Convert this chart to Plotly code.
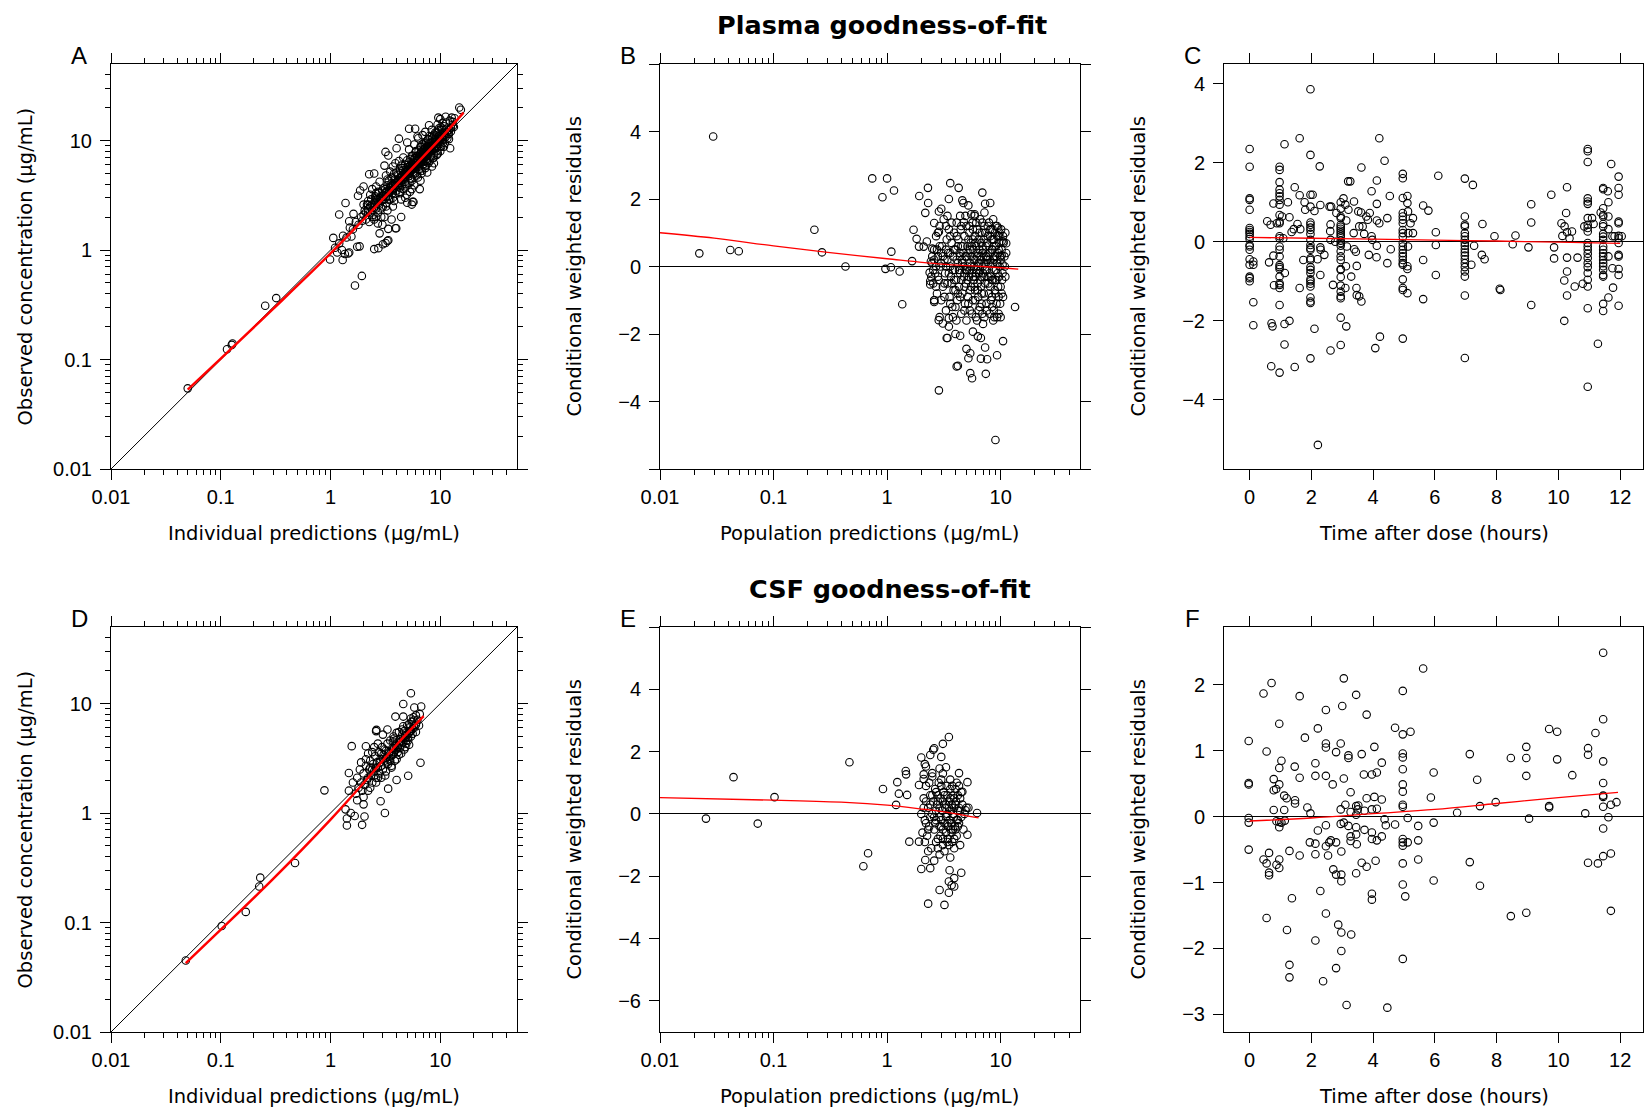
import math
import plotly.graph_objects as go

# ---------------------------------------------------------------------------
# Plasma data
# ---------------------------------------------------------------------------
# (individual prediction, observed concentration) in ug/mL
plasma_ipred_dv = [
    (0.05, 0.0545), (0.114, 0.124), (0.126, 0.136), (0.128, 0.14), (0.254, 0.31), (0.32, 0.364),
    (1.67, 0.474), (1.93, 0.58), (0.99, 0.82), (1.06, 1.29), (1.2, 2.11), (1.37, 2.69), (1.48, 1.83),
    (1.62, 2.14), (1.75, 1.07), (1.84, 1.08), (1.27, 1.0), (1.29, 0.81), (1.48, 0.95), (1.55, 1.33),
    (1.15, 0.95), (1.35, 0.92), (1.45, 0.93), (1.78, 3.13), (1.86, 3.5), (2.0, 3.8), (2.25, 4.92),
    (2.5, 5.0), (2.5, 1.02), (2.73, 1.04), (3.0, 1.13), (3.3, 1.21), (3.17, 7.87), (3.36, 7.3),
    (3.1, 5.9), (4.0, 8.5), (4.2, 10.4), (4.4, 2.0), (3.9, 1.58), (3.7, 5.8), (5.0, 9.6), (5.2, 12.8),
    (5.9, 12.8), (6.2, 10.9), (5.6, 2.75), (5.0, 2.7), (6.5, 3.6), (8.4, 5.8), (12.3, 8.5),
    (12.7, 16.2), (14.9, 20.0), (15.4, 19.1), (13.3, 13.3), (9.6, 16.2), (10.0, 15.7), (7.9, 13.8),
    (2.8, 1.42), (2.97, 1.7), (3.17, 1.16), (3.36, 1.23), (3.36, 1.56), (3.97, 1.58), (5.5, 2.6),
    (5.7, 2.75), (1.1, 1.05), (1.2, 1.15), (1.3, 1.35), (1.4, 1.3), (1.5, 1.6), (1.6, 1.55),
    (1.7, 1.8), (1.8, 1.7), (1.9, 2.0), (1.95, 1.85), (2.0, 2.1), (2.05, 2.3), (2.1, 1.9),
    (2.15, 2.6), (2.2, 2.2), (2.25, 1.8), (2.3, 2.5), (2.35, 2.9), (2.4, 2.3), (2.45, 2.1),
    (2.5, 2.7), (2.55, 3.1), (2.6, 2.4), (2.65, 2.9), (2.7, 2.2), (2.75, 3.3), (2.8, 2.6),
    (2.85, 3.0), (2.9, 2.8), (2.95, 3.5), (3.0, 2.5), (2.3, 3.2), (2.4, 3.6), (2.6, 3.8),
    (2.5, 1.9), (2.7, 1.75), (2.9, 2.0), (2.2, 2.8), (2.0, 2.6), (2.8, 4.2), (2.6, 3.3),
    (3.05, 3.2), (3.1, 2.9), (3.15, 3.6), (3.2, 3.4), (3.25, 2.7), (3.3, 3.9), (3.35, 3.1),
    (3.4, 4.3), (3.45, 3.5), (3.5, 2.9), (3.55, 3.8), (3.6, 4.6), (3.65, 3.3), (3.7, 4.0),
    (3.75, 3.6), (3.8, 2.8), (3.85, 4.4), (3.9, 3.9), (3.95, 5.1), (4.0, 3.5), (3.2, 4.8),
    (3.3, 2.3), (3.5, 5.2), (3.7, 2.5), (3.9, 6.2), (3.1, 2.0), (3.6, 1.9),
    (4.05, 4.2), (4.1, 3.8), (4.15, 4.8), (4.2, 4.5), (4.25, 3.4), (4.3, 5.3), (4.35, 4.1),
    (4.4, 4.7), (4.45, 3.9), (4.5, 5.6), (4.55, 4.4), (4.6, 3.6), (4.65, 5.0), (4.7, 4.6),
    (4.75, 6.0), (4.8, 4.2), (4.85, 5.4), (4.9, 4.9), (4.95, 3.2), (5.0, 5.2), (4.2, 6.5),
    (4.4, 2.9), (4.6, 7.0), (4.8, 3.0),
    (5.05, 5.7), (5.1, 4.7), (5.15, 6.3), (5.2, 5.0), (5.25, 4.1), (5.3, 5.9), (5.35, 6.8),
    (5.4, 5.3), (5.45, 4.5), (5.5, 6.1), (5.55, 5.6), (5.6, 7.3), (5.65, 4.9), (5.7, 6.4),
    (5.75, 5.8), (5.8, 3.9), (5.85, 6.9), (5.9, 5.5), (5.95, 7.8), (6.0, 6.2), (5.2, 8.3),
    (5.5, 3.6), (5.8, 9.2), (5.3, 3.4),
    (6.05, 5.1), (6.1, 6.7), (6.15, 7.2), (6.2, 5.8), (6.25, 4.6), (6.3, 6.5), (6.35, 8.1),
    (6.4, 7.0), (6.45, 5.4), (6.5, 6.9), (6.55, 7.6), (6.6, 6.1), (6.65, 8.7), (6.7, 7.3),
    (6.75, 5.0), (6.8, 7.8), (6.85, 6.6), (6.9, 9.3), (6.95, 7.1), (7.0, 6.0), (6.3, 10.5),
    (6.6, 4.3), (6.9, 11.2),
    (7.05, 7.6), (7.1, 8.3), (7.15, 6.4), (7.2, 9.0), (7.25, 7.9), (7.3, 5.6), (7.35, 8.6),
    (7.4, 7.2), (7.45, 9.8), (7.5, 8.0), (7.55, 6.8), (7.6, 8.9), (7.65, 7.5), (7.7, 10.2),
    (7.75, 8.2), (7.8, 6.2), (7.85, 9.4), (7.9, 7.9), (7.95, 11.0), (8.0, 8.5), (7.3, 12.0),
    (7.6, 5.1),
    (8.1, 8.8), (8.2, 7.3), (8.3, 9.6), (8.4, 8.1), (8.5, 10.4), (8.6, 6.9), (8.7, 9.1),
    (8.8, 11.3), (8.9, 8.4), (9.0, 9.9), (8.35, 12.5), (8.75, 6.2),
    (9.1, 10.6), (9.2, 8.7), (9.3, 11.8), (9.4, 9.4), (9.5, 7.6), (9.6, 10.9), (9.7, 12.9),
    (9.8, 9.8), (9.9, 11.5), (10.0, 8.9), (9.45, 14.0),
    (10.2, 10.8), (10.4, 12.6), (10.6, 9.6), (10.8, 13.5), (11.0, 11.2), (11.3, 14.6),
    (11.6, 10.5), (11.9, 12.4), (12.2, 15.2), (12.5, 13.0), (13.0, 14.8), (13.5, 16.0),
    (10.5, 14.5), (11.2, 16.5), (12.0, 11.5),
    (2.1, 2.2), (2.2, 2.35), (2.3, 2.2), (2.4, 2.6), (2.5, 2.45), (2.6, 2.75), (2.7, 2.65),
    (2.8, 2.95), (2.9, 3.1), (3.0, 2.9), (3.1, 3.3), (3.2, 3.05), (3.3, 3.5), (3.4, 3.3),
    (3.5, 3.7), (3.6, 3.5), (3.7, 3.85), (3.8, 3.7), (3.9, 4.1), (4.0, 3.9), (4.1, 4.35),
    (4.2, 4.1), (4.3, 4.5), (4.4, 4.3), (4.5, 4.75), (4.6, 4.5), (4.7, 4.95), (4.8, 4.7),
    (4.9, 5.2), (5.0, 4.85), (5.1, 5.4), (5.2, 5.1), (5.3, 5.6), (5.4, 5.25), (5.5, 5.8),
    (5.6, 5.45), (5.7, 6.0), (5.8, 5.65), (5.9, 6.2), (6.0, 5.8), (6.1, 6.45), (6.2, 6.0),
    (6.3, 6.7), (6.4, 6.2), (6.5, 6.85), (6.6, 6.4), (6.7, 7.05), (6.8, 6.6), (6.9, 7.3),
    (7.0, 6.8), (7.1, 7.5), (7.2, 7.0), (7.3, 7.7), (7.4, 7.2), (7.5, 7.9), (7.6, 7.4),
    (7.7, 8.1), (7.8, 7.6), (7.9, 8.3), (8.0, 7.8), (8.2, 8.6), (8.4, 8.2), (8.6, 9.0),
    (8.8, 8.6), (9.0, 9.4), (9.2, 9.0), (9.4, 9.8), (9.6, 9.3), (9.8, 10.2), (10.0, 9.7),
    (10.3, 10.5), (10.6, 10.2), (10.9, 11.3), (11.2, 10.8), (11.5, 11.9), (11.8, 11.4),
    (12.1, 12.6), (12.5, 12.1), (13.0, 13.5),
    (2.4, 2.0), (2.6, 3.0), (2.9, 2.4), (3.1, 3.7), (3.4, 2.9), (3.6, 4.1), (3.9, 3.3),
    (4.1, 4.9), (4.3, 3.7), (4.6, 5.4), (4.8, 4.0), (5.1, 6.0), (5.3, 4.5), (5.6, 6.6),
    (5.9, 5.0), (6.1, 7.2), (6.4, 5.5), (6.7, 7.9), (7.0, 6.1), (7.3, 8.6), (7.6, 6.6),
    (7.9, 9.2), (8.2, 7.1), (8.5, 9.7), (8.8, 7.6), (9.1, 10.3), (9.4, 8.1), (9.8, 11.0),
    (10.2, 8.8), (10.6, 11.8), (11.0, 9.5), (11.5, 12.8), (12.0, 10.3), (2.2, 2.6), (2.7, 3.4),
    (3.3, 4.4), (3.8, 5.0), (4.4, 5.9), (5.0, 6.6), (5.5, 7.2), (6.0, 8.0), (6.6, 8.8),
    (7.2, 9.5), (7.8, 10.3), (8.4, 11.0), (9.0, 11.8), (9.6, 12.4), (10.2, 13.2), (2.6, 2.0),
    (3.2, 2.5), (3.7, 3.0), (4.3, 3.3), (4.9, 3.8), (5.5, 4.3), (6.1, 4.8), (6.8, 5.3),
    (7.4, 5.9), (8.0, 6.5), (8.7, 7.0), (9.3, 7.4), (10.0, 8.0), (10.8, 8.8),
]

# (population prediction, CWRES)
plasma_pred_cwres = [
    (0.0222, 0.39), (0.0294, 3.85), (0.0416, 0.49), (0.0494, 0.45), (0.229, 1.09), (0.267, 0.42),
    (0.43, 0.0), (0.74, 2.61), (0.91, 2.05), (0.967, -0.07), (1.0, 2.61), (1.08, -0.02),
    (1.09, 0.44), (1.15, 2.25), (1.29, -0.15), (1.36, -1.12), (1.66, 0.16), (1.71, 1.09),
    (1.82, 0.82), (1.92, 2.09), (1.91, 0.59), (2.1, 0.59), (2.17, 1.59), (2.24, 0.74),
    (2.29, 2.33), (2.3, 1.88), (2.37, -0.18), (2.43, 0.15),
    (2.6, -1.05), (2.86, -3.67), (2.85, -1.59), (2.86, 1.63), (3.0, 1.71), (3.1, -1.69),
    (3.6, 2.47), (3.5, 2.0), (3.4, -2.12), (3.35, -2.12), (3.5, -1.78), (3.5, -1.53),
    (4.08, -1.6), (4.0, -2.0), (4.27, 2.33), (4.2, -2.94), (4.1, -2.96), (4.4, -2.05),
    (4.6, 1.96), (4.7, 1.88), (4.75, 1.31), (5.0, -2.44), (5.2, 1.81), (5.2, -2.72),
    (5.4, -2.57), (5.4, -3.16), (5.6, -3.31), (5.5, 1.55), (5.9, 1.55), (5.7, -1.93),
    (6.3, -2.07), (6.7, -2.73), (6.7, -2.12), (6.9, 2.19), (7.3, 1.86), (7.3, -2.4),
    (7.4, -3.18), (8.1, 1.88), (7.6, -2.75), (9.3, -2.63), (9.0, -5.14), (10.5, -2.21),
    (13.4, -1.2), (11.2, 0.69), (10.6, 0.74), (10.2, -0.8), (10.2, 0.33), (10.4, 0.06),
    (2.6, 1.29), (2.86, 1.03), (2.5, 0.53), (2.4, -0.43), (2.4, -0.53), (2.6, -1.0),
    (2.45, -0.3), (2.5, 0.1), (2.55, -0.5), (2.6, 0.5), (2.65, -0.2), (2.7, 0.9), (2.75, -0.8),
    (2.8, 0.3), (2.85, -0.4), (2.9, 1.2), (2.95, 0.0), (3.0, -1.0), (3.05, 0.6), (3.1, -0.6),
    (3.15, 1.4), (3.2, 0.2), (3.25, -0.2), (3.3, -1.3), (3.35, 0.8), (3.4, -0.5), (3.45, 0.4),
    (3.5, 1.1), (3.55, -0.9), (3.6, 0.0), (3.65, -0.3), (3.7, 0.7), (3.75, -1.2), (3.8, 0.3),
    (3.85, -0.7), (3.9, 1.0), (3.95, -0.1), (4.0, 0.5), (4.05, -0.4), (4.1, 1.3), (4.15, -1.0),
    (4.2, 0.1), (4.25, 0.8), (4.3, -0.6), (4.35, 0.4), (4.4, -0.2), (4.45, 1.1), (4.5, -1.4),
    (4.55, 0.2), (4.6, -0.8), (4.65, 0.6), (4.7, 0.0), (4.75, -0.3), (4.8, 0.9), (4.85, -1.1),
    (4.9, 0.3), (4.95, -0.5), (5.0, 1.2), (5.05, -0.1), (5.1, 0.6), (5.15, -0.9), (5.2, 0.4),
    (5.25, -0.3), (5.3, 1.0), (5.35, -1.3), (5.4, 0.1), (5.45, 0.7), (5.5, -0.6), (5.55, 0.3),
    (5.6, -0.2), (5.65, 1.3), (5.7, -1.0), (5.75, 0.5), (5.8, -0.4), (5.85, 0.0), (5.9, 0.9),
    (5.95, -0.7), (6.0, 0.2), (6.05, -1.5), (6.1, 0.6), (6.15, -0.1), (6.2, 1.1), (6.25, -0.5),
    (6.3, 0.4), (6.35, -0.9), (6.4, 0.8), (6.45, -0.2), (6.5, 0.1), (6.55, -1.2), (6.6, 1.4),
    (6.65, 0.3), (6.7, -0.6), (6.75, 0.7), (6.8, -0.3), (6.85, 1.0), (6.9, -1.4), (6.95, 0.0),
    (7.0, 0.5), (7.1, -0.8), (7.2, 1.2), (7.3, -0.1), (7.4, 0.6), (7.5, -1.1), (7.6, 0.2),
    (7.7, 0.9), (7.8, -0.5), (7.9, 1.3), (8.0, -0.2), (8.1, 0.4), (8.2, -1.0), (8.3, 0.8),
    (8.4, -0.4), (8.5, 1.1), (8.6, 0.1), (8.7, -1.3), (8.8, 0.6), (8.9, -0.7), (9.0, 1.2),
    (9.1, -0.1), (9.2, 0.3), (9.3, -1.5), (9.4, 0.9), (9.5, -0.6), (9.6, 0.5), (9.7, -0.3),
    (9.8, 1.0), (9.9, -1.1), (10.0, 0.2), (10.3, -0.4), (10.6, 0.7), (10.9, 0.0), (11.2, 0.4),
    (3.3, 0.5), (3.6, 0.9), (3.9, -0.4), (4.2, -0.8), (4.5, 0.6), (4.8, -0.2), (5.1, 0.0),
    (5.4, -0.7), (5.7, 0.8), (6.0, -0.3), (6.3, 0.0), (6.6, -0.4), (6.9, 0.6), (7.2, -0.3),
    (7.5, 0.3), (7.8, 0.1), (8.1, -0.6), (8.4, 0.5), (8.7, 0.2), (9.0, -0.4), (3.0, 0.4),
    (2.7, -0.6), (2.9, -1.5), (3.4, 1.5), (4.4, 1.5), (5.9, 1.5), (7.2, 1.6), (8.6, 1.4),
    (9.5, 1.15), (10.2, 0.75), (10.5, -0.9), (10.0, -1.5), (2.6, -1.0), (2.8, 1.0),
    (2.5, 0.3), (2.55, -0.1), (2.6, 0.2), (2.7, 0.0), (2.75, 0.5), (2.8, -0.3), (2.9, 0.6),
    (3.0, 0.1), (3.1, 0.3), (3.2, -0.5), (3.3, 0.0), (3.4, 0.2), (3.5, -0.2), (3.6, 0.4),
    (3.7, -0.5), (3.8, -0.1), (3.9, 0.5), (4.0, -0.7), (4.1, 0.2), (4.2, 0.6), (4.3, -0.1),
    (4.4, 0.3), (4.5, -0.4), (4.6, 0.1), (4.7, 0.4), (4.8, -0.6), (4.9, -0.1), (5.0, 0.3),
    (5.1, -0.4), (5.2, 0.8), (5.3, -0.1), (5.4, 0.5), (5.5, 0.0), (5.6, 0.6), (5.7, -0.3),
    (5.8, 0.2), (5.9, -0.6), (6.0, 0.7), (6.1, -0.2), (6.2, 0.3), (6.3, -0.7), (6.4, 0.1),
    (6.5, 0.5), (6.6, -0.1), (6.7, 0.2), (6.8, -0.8), (6.9, 0.4), (7.0, -0.2), (7.1, 0.8),
    (7.2, 0.1), (7.3, -0.5), (7.4, 0.3), (7.5, -0.1), (7.6, 0.7), (7.7, -0.3), (7.8, 0.4),
    (7.9, -0.8), (8.0, 0.2), (8.1, 0.9), (8.2, -0.3), (8.3, 0.1), (8.4, -0.9), (8.5, 0.5),
    (8.6, -0.4), (8.7, 0.8), (8.8, -0.1), (8.9, 0.3), (9.0, -0.8), (9.1, 0.6), (9.2, -0.4),
    (9.3, 0.1), (9.4, -0.2), (9.5, 0.4), (9.6, -0.9), (9.7, 0.7), (9.8, 0.0), (9.9, 0.3),
    (10.0, -0.6), (10.2, 0.5), (10.4, -0.2), (10.8, 0.3), (11.0, -0.3),
    (3.2, -0.9), (3.6, -1.1), (4.0, -1.2), (4.4, -0.9), (4.8, -1.3), (5.2, -1.1), (5.6, -1.4),
    (6.0, -1.0), (6.4, -1.3), (6.8, -1.1), (7.2, -1.5), (7.6, -1.3), (8.0, -1.4), (8.4, -1.2),
    (8.8, -1.5), (9.2, -1.1), (9.6, -1.4), (3.8, -1.5), (5.0, -1.6), (6.2, -1.6), (7.0, -1.7),
    (8.6, -1.6),
    (3.3, 1.2), (3.7, 1.3), (4.1, 0.9), (4.5, 1.2), (4.9, 1.5), (5.3, 1.2), (5.7, 1.1),
    (6.1, 1.3), (6.5, 1.0), (6.9, 1.3), (7.3, 1.0), (7.7, 1.2), (8.1, 1.1), (8.5, 0.8),
    (8.9, 1.0), (9.3, 1.2), (9.7, 0.9), (10.1, 1.1), (10.5, 0.9), (11.0, 1.0),
]

# CWRES grouped at nominal sampling times (hours)
plasma_time_columns = [
    (0.0, [2.35, 1.9, 1.1, 1.06, 0.81, 0.35, 0.3, 0.25, 0.2, 0.13, 0.07, -0.08, -0.12, -0.2,
           -0.44, -0.58, -0.88, -0.92, -1.0]),
    (0.12, [-0.5, -0.58, -1.53, -2.11]),
    (0.97, [1.9, 1.82, 1.51, 1.32, 1.23, 1.15, 1.06, 0.94, 0.68, 0.51, 0.47, 0.14, 0.09, -0.12,
            -0.2, -0.37, -0.59, -0.64, -0.69, -0.88, -1.05, -1.09, -1.17, -1.6, -3.31]),
    (1.97, [3.86, 2.2, 1.19, 0.89, 0.49, 0.43, 0.36, 0.3, 0.2, 0.05, -0.08, -0.16, -0.2, -0.42,
            -0.46, -0.64, -0.71, -0.79, -0.95, -1.0, -1.06, -1.13, -1.41, -1.51, -1.55, -2.95]),
    (2.95, [1.0, 0.84, 0.64, 0.6, 0.43, 0.38, 0.33, 0.28, 0.23, 0.18, 0.13, 0.03, -0.03, -0.1,
            -0.24, -0.37, -0.46, -0.69, -0.71, -0.89, -1.11, -1.26, -1.38, -1.43, -1.92, -2.61]),
    (4.96, [1.72, 1.61, 1.11, 0.73, 0.64, 0.56, 0.47, 0.3, 0.22, 0.13, -0.03, -0.12, -0.2, -0.29,
            -0.37, -0.46, -0.54, -0.58, -0.95, -1.17, -1.22, -2.45]),
    (6.97, [1.6, 0.64, 0.43, 0.39, 0.22, 0.14, 0.05, -0.03, -0.1, -0.19, -0.27, -0.35, -0.44,
            -0.54, -0.64, -0.75, -0.88, -1.36, -2.94]),
    (10.95, [2.35, 2.29, 2.02, 1.1, 1.02, 0.96, 0.6, 0.43, 0.35, 0.26, -0.03, -0.12, -0.2, -0.3,
             -0.41, -0.54, -0.64, -0.79, -0.96, -1.13, -1.68, -3.67]),
    (11.45, [1.36, 1.33, 0.85, 0.68, 0.64, 0.45, 0.39, 0.2, 0.13, 0.05, -0.12, -0.2, -0.29, -0.37,
             -0.46, -0.54, -0.62, -0.71, -0.84, -0.88, -1.57, -1.75]),
    (11.95, [1.65, 1.36, 1.19, 0.51, 0.47, 0.15, 0.09, -0.03, -0.33, -0.37, -0.69, -0.84, -1.62]),
]

# CWRES at off-nominal times: (time, CWRES)
plasma_time_cwres = [
    (0.57, 0.52), (0.68, 0.43), (0.63, -0.52), (0.77, -0.35), (0.77, 0.97), (0.79, -1.1),
    (0.7, -3.15), (0.71, -2.06), (0.74, -2.14), (0.88, 0.47),
    (1.05, 0.64), (1.13, 2.47), (1.09, 0.09), (1.14, -0.79), (1.13, -2.08), (1.13, -2.6),
    (1.24, 1.0), (1.29, 0.62), (1.29, -2.0),
    (1.36, 0.25), (1.43, 0.32), (1.46, 1.38), (1.46, -3.17), (1.55, 0.45), (1.62, 2.62),
    (1.62, 1.18), (1.64, 0.32), (1.62, -1.17), (1.74, -0.46), (1.78, 1.0), (1.8, 0.81),
    (2.04, 1.19), (2.1, 0.78), (2.1, -2.2), (2.2, -0.44), (2.21, -5.14), (2.27, 1.91),
    (2.29, 0.93), (2.29, -0.14), (2.3, -0.2), (2.29, -0.84), (2.42, -0.33),
    (2.59, 0.89), (2.64, 0.89), (2.62, 0.44), (2.61, 0.27), (2.62, 0.05), (2.7, -1.09),
    (2.62, -2.75), (2.81, 0.73), (2.77, 0.0),
    (3.04, 1.1), (3.1, 0.94), (3.13, 0.54), (3.15, -0.12), (3.1, -1.17), (3.13, -2.14),
    (3.19, 1.53), (3.26, 1.53), (3.2, 0.81), (3.12, -0.62), (3.29, -0.88),
    (3.38, 1.02), (3.37, 0.22), (3.39, -0.19), (3.44, -0.25), (3.47, -0.61), (3.46, -1.17),
    (3.47, -1.35), (3.55, -1.38), (3.52, 0.77), (3.55, 0.39), (3.61, 0.74), (3.62, 1.88),
    (3.62, -1.51), (3.66, 0.39), (3.71, 0.2), (3.78, 0.64), (3.83, 0.56), (3.89, 0.73),
    (3.95, 1.28),
    (3.95, 0.14), (3.97, 0.05), (3.86, -0.33), (4.07, -2.69), (4.12, 1.55), (4.12, 0.96),
    (4.12, 0.54), (4.12, -0.1), (4.11, -0.39), (4.2, 2.62), (4.2, 0.47), (4.22, -2.4),
    (4.37, 2.05), (4.46, 0.6), (4.46, -0.54), (4.54, 1.16), (4.57, -0.19),
    (5.11, 1.16), (5.11, 0.98), (5.13, 0.77), (5.14, 0.22), (5.13, -0.12), (5.11, -0.62),
    (5.11, -0.69), (5.11, -1.3), (5.21, 0.47), (5.29, 0.6), (5.29, 0.22),
    (5.62, 0.92), (5.79, 0.79), (5.62, -0.46), (5.62, -1.45), (6.03, 0.24), (6.03, -0.08),
    (6.03, -0.84), (6.11, 1.67),
    (7.23, 1.44), (7.18, -0.58), (7.27, -0.1), (7.54, 0.45), (7.52, -0.33), (7.61, -0.44),
    (7.93, 0.14), (8.1, -1.19), (8.12, -1.22), (8.52, -0.06), (8.61, 0.16),
    (9.03, -0.14), (9.12, 0.95), (9.12, 0.49), (9.12, -1.6),
    (9.77, 1.19), (9.86, -0.14), (9.86, -0.42), (10.1, 0.47), (10.13, 0.15), (10.19, -0.98),
    (10.19, -2.0), (10.2, 0.39), (10.25, 0.73), (10.28, 1.38), (10.28, 0.24), (10.28, -0.4),
    (10.28, -0.75), (10.28, -1.36), (10.36, 0.09), (10.44, 0.26), (10.53, -1.13), (10.62, -0.4),
    (10.79, -1.06), (10.84, 0.39), (11.09, 0.6), (11.14, 0.45), (11.28, -2.58), (11.37, 0.74),
    (11.6, 1.28), (11.62, 1.0), (11.62, 0.64), (11.62, 0.32), (11.62, -0.37), (11.62, -1.41),
    (11.71, 1.97), (11.75, 0.14), (11.75, -0.67), (11.77, -1.16), (11.82, 0.14), (12.05, 0.14),
]

# ---------------------------------------------------------------------------
# CSF data
# ---------------------------------------------------------------------------
csf_ipred_dv = [
    (0.048, 0.045), (0.102, 0.093), (0.169, 0.125), (0.224, 0.213), (0.229, 0.257), (0.475, 0.35),
    (0.88, 1.61), (1.37, 1.08), (1.41, 0.89), (1.41, 0.77), (1.53, 1.0), (1.47, 2.32),
    (1.56, 4.08), (1.47, 1.6), (1.66, 0.94), (1.75, 1.31), (1.94, 0.78), (2.04, 0.93), (2.0, 1.2),
    (2.1, 4.07), (3.13, 1.0), (2.86, 1.28), (3.35, 1.67), (4.0, 2.0), (5.1, 2.19), (6.6, 2.88),
    (3.9, 7.6), (4.6, 9.9), (5.4, 12.4), (5.8, 9.2), (6.7, 9.4), (5.7, 7.5), (4.6, 7.6),
    (2.6, 5.6), (2.62, 5.75),
    (1.6, 1.9), (1.7, 1.5), (1.75, 2.1), (1.8, 1.7), (1.85, 2.5), (1.9, 1.9), (1.95, 1.6),
    (2.0, 2.3), (2.05, 1.8), (2.1, 2.7), (2.15, 2.0), (2.2, 1.6), (2.25, 2.5), (2.3, 3.0),
    (2.35, 2.2), (2.4, 1.9), (2.45, 2.8), (2.5, 2.4), (2.55, 3.3), (2.6, 2.1), (2.65, 2.9),
    (2.7, 2.6), (2.75, 3.6), (2.8, 2.3), (2.85, 3.1), (2.9, 2.7), (2.95, 4.0), (3.0, 2.5),
    (3.05, 3.4), (3.1, 3.0), (3.15, 2.2), (3.2, 3.7), (3.25, 3.2), (3.3, 4.3), (3.35, 2.8),
    (3.4, 3.5), (3.45, 3.1), (3.5, 4.6), (3.55, 3.3), (3.6, 2.7), (3.65, 3.9), (3.7, 3.4),
    (3.75, 5.0), (3.8, 3.6), (3.85, 3.0), (3.9, 4.2), (3.95, 3.8), (4.0, 5.4), (4.1, 4.0),
    (4.2, 3.4), (4.3, 4.7), (4.4, 4.2), (4.5, 5.8), (4.6, 4.4), (4.7, 3.8), (4.8, 5.1),
    (4.9, 4.6), (5.0, 6.3), (5.1, 4.9), (5.2, 4.2), (5.3, 5.6), (5.4, 5.0), (5.5, 6.8),
    (5.6, 5.3), (5.8, 6.0), (6.0, 5.5), (6.2, 7.1), (6.4, 6.3), (2.2, 3.5), (2.5, 4.0),
    (2.7, 4.3), (3.0, 5.2), (3.3, 5.8), (2.0, 1.4), (2.3, 1.7), (2.6, 1.9), (2.9, 2.1),
    (3.2, 2.4), (3.6, 2.6), (4.0, 3.1), (4.4, 3.5), (4.8, 4.0), (5.2, 6.5), (5.7, 7.0),
    (1.9, 2.9), (2.1, 3.1), (2.4, 3.6), (3.8, 4.8), (4.2, 5.5), (4.6, 6.2), (5.4, 7.3),
    (6.0, 7.8), (6.5, 8.0),
    (2.2, 2.1), (2.4, 2.5), (2.6, 2.6), (2.8, 2.9), (3.0, 3.1), (3.2, 3.2), (3.4, 3.6),
    (3.6, 3.7), (3.8, 3.9), (4.0, 4.1), (4.2, 4.4), (4.4, 4.5), (4.6, 4.8), (4.8, 4.9),
    (5.0, 5.2), (5.2, 5.4), (5.4, 5.6), (5.6, 5.9), (5.8, 6.2), (6.0, 6.4), (2.5, 2.2),
    (2.9, 3.5), (3.3, 2.9), (3.7, 4.5), (4.1, 3.6), (4.5, 5.2), (4.9, 4.3), (5.3, 6.1),
    (2.3, 2.6), (2.7, 2.1), (3.1, 3.8), (3.5, 3.0), (3.9, 4.6), (4.3, 3.9), (4.7, 5.6),
    (5.1, 4.6),
]

csf_pred_cwres = [
    (0.0254, -0.15), (0.0444, 1.18), (0.0726, -0.31), (0.102, 0.54), (0.466, 1.66), (0.618, -1.68),
    (0.68, -1.26), (0.92, 0.8), (1.2, 0.29), (1.23, 1.02), (1.27, 0.65), (1.46, 1.38),
    (1.47, 1.27), (1.5, 0.61), (1.57, -0.89), (1.91, 0.93), (1.91, -0.89), (2.0, 1.81),
    (2.0, -1.77), (2.1, 1.27), (2.1, 1.12), (2.15, 1.6), (2.2, 1.52), (2.3, -2.88), (2.17, -1.48),
    (2.4, -1.74), (2.4, 1.89), (2.55, 2.06), (2.6, 2.11), (2.5, 1.31), (2.9, -2.44), (3.0, 1.83),
    (3.1, 2.25), (2.9, 1.46), (3.2, -2.92), (3.5, 2.47), (3.5, -2.53), (3.5, -2.17), (3.55, -1.81),
    (3.7, -2.29), (3.9, -2.33), (3.9, -2.06), (4.3, 1.31), (4.5, -1.89), (4.6, 0.71), (5.1, 1.02),
    (5.1, -0.67), (6.2, 0.03), (5.2, 0.2), (4.9, 0.12),
    (2.0, 0.0), (2.05, -0.6), (2.1, 0.5), (2.15, -0.2), (2.2, 0.9), (2.25, -0.7), (2.3, 0.2),
    (2.35, -0.4), (2.4, 0.6), (2.45, -1.1), (2.5, 0.0), (2.55, 0.4), (2.6, -0.5), (2.65, 0.8),
    (2.7, -0.2), (2.75, 0.3), (2.8, -0.8), (2.85, 1.0), (2.9, -0.1), (2.95, 0.5), (3.0, -0.4),
    (3.05, 0.1), (3.1, -1.0), (3.15, 0.7), (3.2, -0.3), (3.25, 0.2), (3.3, -0.6), (3.35, 0.9),
    (3.4, 0.0), (3.45, -0.8), (3.5, 0.4), (3.55, -0.2), (3.6, 1.1), (3.65, -0.5), (3.7, 0.3),
    (3.75, -0.9), (3.8, 0.6), (3.85, -0.1), (3.9, 0.2), (3.95, -0.4), (4.0, 0.8), (4.1, -0.7),
    (4.2, 0.1), (4.3, -0.3), (4.4, 0.5), (4.5, -0.1), (4.6, 0.3), (4.7, -0.5), (4.8, 0.0),
    (5.0, 0.2), (2.3, -1.2), (2.6, -1.5), (2.9, -1.3), (3.1, 1.3), (3.3, 1.5), (3.6, -1.4),
    (3.9, -1.1), (4.1, 1.0), (4.4, -1.0), (2.2, 0.4), (2.5, 1.2), (2.8, 0.6), (3.0, 0.9),
    (3.4, 0.6), (3.7, -0.3), (4.0, -0.5), (4.3, 0.9), (3.2, -1.2), (3.5, -1.0), (2.7, -0.9),
    (3.8, 0.0), (3.3, 0.3), (2.4, -0.1), (2.9, 0.2), (3.1, -0.5), (3.6, 0.5), (4.2, -0.2),
    (2.15, -0.9), (2.35, 1.0), (2.65, -0.3), (2.95, -0.7), (3.45, -0.4), (3.75, 0.9),
    (4.05, 0.4), (4.5, 0.7),
    (2.1, 0.2), (2.3, -0.5), (2.5, 0.6), (2.7, 0.1), (2.9, -0.4), (3.1, 0.4), (3.3, -0.1),
    (3.5, 0.2), (3.7, -0.6), (3.9, 0.5), (4.1, -0.2), (4.3, 0.2), (2.2, -0.3), (2.4, 0.3),
    (2.6, -0.1), (2.8, 0.4), (3.0, -0.2), (3.2, 0.6), (3.4, -0.3), (3.6, 0.1), (3.8, -0.5),
    (4.0, 0.3), (4.2, -0.4), (4.4, 0.1), (3.1, -0.8), (3.4, -0.9), (2.8, -1.1), (3.9, -0.8),
    (3.0, 1.1), (3.6, 0.8), (2.7, 0.7), (4.2, 0.6),
]

csf_time_cwres = [
    (-0.03, 1.15), (-0.03, 0.51), (-0.03, 0.49), (-0.03, -0.02), (-0.03, -0.09), (-0.03, -0.5),
    (0.45, 1.87), (0.55, 0.99), (0.71, 2.03), (0.55, -1.54), (0.45, -0.65), (0.55, -0.71),
    (0.63, -0.55), (0.63, -0.85), (0.63, -0.89), (0.78, 0.57), (0.78, 0.4), (0.78, 0.1),
    (0.86, 0.42), (0.87, -0.07), (0.87, -0.73), (0.96, 1.41), (0.96, 0.74), (0.96, 0.49),
    (0.96, -0.08), (0.96, -0.16), (0.96, -0.65), (0.96, -0.78), (1.03, 0.85), (1.03, -0.09),
    (1.12, 0.32), (1.2, 0.28), (1.12, 0.1), (1.14, -0.06), (1.21, -1.72), (1.29, -0.52),
    (1.29, -2.25), (1.29, -2.44), (1.37, -1.24), (1.46, 0.76), (1.47, 0.25), (1.47, 0.2),
    (1.62, 1.83), (1.62, 0.59), (1.62, -0.59), (1.79, 1.2), (1.87, 0.14), (1.95, -0.39),
    (1.97, 0.05), (2.13, 0.81), (2.13, 0.62), (2.13, -0.41), (2.13, -0.57), (2.13, -1.88),
    (2.21, 1.34), (2.21, -0.21), (2.29, -1.13), (2.38, -2.5), (2.47, 1.62), (2.47, 1.11),
    (2.47, 1.05), (2.47, 0.62), (2.47, -0.13), (2.47, -0.45), (2.47, -1.47), (2.54, -0.59),
    (2.58, -0.39), (2.63, -0.36), (2.69, 0.49), (2.71, -0.8), (2.8, 0.98), (2.8, -0.39),
    (2.8, -0.88), (2.8, -2.3), (2.87, -1.64), (2.95, 1.11), (2.95, 0.11), (2.95, -0.11),
    (2.97, -0.53), (2.97, -0.88), (2.97, -0.98), (2.97, -1.76), (2.97, -2.04), (3.0, 1.68),
    (3.05, 2.1), (3.05, 0.58), (3.05, -0.09), (3.1, 0.18), (3.14, -2.86), (3.2, 0.93),
    (3.2, 0.89), (3.2, -0.14), (3.27, 0.37), (3.27, 0.07), (3.27, -0.3), (3.27, -0.37),
    (3.29, -1.79), (3.45, 1.85), (3.45, 0.16), (3.5, 0.11), (3.45, 0.03), (3.45, -0.16),
    (3.45, -0.27), (3.47, -0.42), (3.45, -0.86), (3.52, 0.17), (3.63, 0.95), (3.63, -0.7),
    (3.7, 0.64), (3.72, 0.09), (3.72, -0.2), (3.79, 1.55), (3.79, 0.28), (3.79, -0.76),
    (3.96, 0.64), (3.96, 0.11), (3.96, -0.24), (3.96, -0.34), (3.96, -1.17), (3.96, -1.26),
    (4.04, 1.06), (4.04, 0.3), (4.08, -0.67), (4.12, 0.67), (4.12, 0.12), (4.12, -0.36),
    (4.28, 0.82), (4.28, 0.26), (4.28, -0.3), (4.37, -0.04), (4.41, -0.13), (4.46, -2.9),
    (4.71, -0.12), (4.71, 1.35), (4.96, 1.91), (4.96, 1.25), (4.96, 0.96), (4.96, 0.9),
    (4.96, 0.72), (4.96, 0.49), (4.96, 0.38), (4.96, 0.18), (4.96, 0.15), (4.96, -0.34),
    (4.96, -0.39), (4.96, -0.44), (4.96, -0.71), (4.96, -1.03), (4.96, -2.16), (5.04, -1.21),
    (5.12, -0.02), (5.12, -0.39), (5.21, 1.29), (5.46, -0.14), (5.46, -0.36), (5.46, -0.65),
    (5.62, 2.25), (5.87, 0.29), (5.96, 0.67), (5.96, -0.09), (5.96, -0.97), (6.72, 0.06),
    (7.13, 0.95), (7.13, -0.69), (7.37, 0.56), (7.46, 0.16), (7.46, -1.05), (7.97, 0.22),
    (8.46, 0.89), (8.46, -1.51), (8.96, 1.06), (8.96, 0.89), (8.96, 0.62), (8.96, -1.46),
    (9.05, -0.03), (9.7, 1.33), (9.7, 0.16), (9.7, 0.14), (9.96, 1.29), (9.96, 0.87),
    (10.45, 0.63), (10.87, 0.05), (10.96, 1.04), (10.96, 0.94), (10.96, -0.7), (11.2, 1.27),
    (11.28, -0.71), (11.45, 2.49), (11.45, 1.48), (11.45, 0.84), (11.45, 0.51), (11.45, 0.32),
    (11.45, 0.3), (11.45, 0.15), (11.45, -0.18), (11.45, -0.6), (11.62, -0.01), (11.7, 0.18),
    (11.7, -0.56), (11.7, -1.43), (11.88, 0.22),
]

# ---------------------------------------------------------------------------
# Smoothed trend lines and line of identity
# ---------------------------------------------------------------------------
plasma_ipred_smooth_x = [0.05, 0.1, 0.3, 1, 2, 4, 8, 10, 16.3]
plasma_ipred_smooth_y = [0.053, 0.102, 0.29, 0.93, 1.9, 3.95, 8.2, 10.4, 18.0]
plasma_pred_smooth_x = [0.01, 0.03, 0.1, 0.3, 1, 3, 7, 14.3]
plasma_pred_smooth_y = [1.0, 0.84, 0.61, 0.42, 0.23, 0.07, 0.0, -0.08]
plasma_time_smooth_x = [0, 2, 4, 6, 8, 10, 12]
plasma_time_smooth_y = [0.11, 0.09, 0.07, 0.04, 0.02, -0.01, -0.04]

csf_ipred_smooth_x = [0.048, 0.1, 0.3, 1, 2, 4, 7.05]
csf_ipred_smooth_y = [0.0426, 0.086, 0.25, 0.87, 1.88, 4.2, 7.66]
csf_pred_smooth_x = [0.01, 0.1, 0.43, 1, 2.1, 3.3, 6.4]
csf_pred_smooth_y = [0.52, 0.44, 0.37, 0.28, 0.15, 0.06, -0.13]
csf_time_smooth_x = [0, 2, 4, 6, 8, 10, 11.93]
csf_time_smooth_y = [-0.066, -0.02, 0.045, 0.11, 0.2, 0.29, 0.37]

identity_line = [0.01, 50]

# Axis ticks
log_tick_vals = [0.01, 0.1, 1, 10]
log_tick_text = ["0.01", "0.1", "1", "10"]
time_tick_vals = [0, 2, 4, 6, 8, 10, 12]

# ---------------------------------------------------------------------------
# Layout helpers
# ---------------------------------------------------------------------------
W, H = 1644, 1110
# plot boxes in pixels: (left, top, right, bottom)
boxes = {
    1: (111, 64, 517, 469),
    2: (660, 64, 1080, 469),
    3: (1224, 64, 1643, 469),
    4: (111, 627, 517, 1032),
    5: (660, 627, 1080, 1032),
    6: (1224, 627, 1643, 1032),
}

TICK_FONT = dict(family="Liberation Sans, Arial, sans-serif", size=20, color="black")
TITLE_FONT = dict(family="DejaVu Sans, Verdana, sans-serif", size=19.5, color="black")
LETTER_FONT = dict(family="Liberation Sans, Arial, sans-serif", size=24, color="black")
HEAD_FONT = dict(family="DejaVu Sans, Verdana, sans-serif", size=25.5, color="black")

log_minor = [m * 10.0 ** e for e in (-2, -1, 0) for m in range(2, 10)] + [20, 30, 40]


def base_axis(i, axis):
    left, top, right, bottom = boxes[i]
    d = dict(
        showline=True, linecolor="black", linewidth=1, mirror="allticks",
        ticks="outside", ticklen=10, tickwidth=1, tickcolor="black",
        showgrid=False, zeroline=False, tickfont=TICK_FONT, automargin=False,
    )
    if axis == "x":
        d["domain"] = [left / W, right / W]
        d["anchor"] = "y" if i == 1 else f"y{i}"
        d["ticklabelstandoff"] = 0
    else:
        d["domain"] = [1 - bottom / H, 1 - top / H]
        d["anchor"] = "x" if i == 1 else f"x{i}"
        d["ticklabelstandoff"] = 4
    return d


def log_axis(i, axis):
    d = base_axis(i, axis)
    d.update(
        type="log", range=[-2, math.log10(50)], tickmode="array",
        tickvals=log_tick_vals, ticktext=log_tick_text,
        minor=dict(ticks="outside", ticklen=5, tickwidth=1, tickcolor="black",
                   tickmode="array", tickvals=log_minor, showgrid=False),
    )
    return d


def minus(v):
    return str(v).replace("-", "\u2212")


def resid_axis(i, rng, vals, labelled):
    d = base_axis(i, "y")
    d.update(
        range=rng, tickmode="array", tickvals=vals,
        ticktext=[minus(v) if v in labelled else "" for v in vals],
        zeroline=True, zerolinecolor="black", zerolinewidth=1,
    )
    return d


def time_axis(i):
    d = base_axis(i, "x")
    d.update(range=[-0.83, 12.74], tickmode="array", tickvals=time_tick_vals,
             ticktext=[str(v) for v in time_tick_vals])
    return d


fig = go.Figure()

POINT = dict(symbol="circle-open", size=7.5, color="black", line=dict(width=1.1, color="black"))


def ref(i):
    return ("x", "y") if i == 1 else (f"x{i}", f"y{i}")


def add_points(i, pairs):
    xs, ys = zip(*pairs)
    xr, yr = ref(i)
    fig.add_trace(go.Scatter(x=list(xs), y=list(ys), mode="markers", marker=POINT,
                             xaxis=xr, yaxis=yr, showlegend=False, hoverinfo="skip"))


def add_line(i, xs, ys, color, width, shape="linear"):
    xr, yr = ref(i)
    fig.add_trace(go.Scatter(x=xs, y=ys, mode="lines",
                             line=dict(color=color, width=width, shape=shape),
                             xaxis=xr, yaxis=yr, showlegend=False, hoverinfo="skip"))


def expand_columns(columns):
    return [(t, v) for t, vals in columns for v in vals]


# Panel A: plasma observed vs individual predictions
add_line(1, identity_line, identity_line, "black", 1)
add_points(1, plasma_ipred_dv)
add_line(1, plasma_ipred_smooth_x, plasma_ipred_smooth_y, "red", 2.5, "spline")

# Panel B: plasma CWRES vs population predictions
add_points(2, plasma_pred_cwres)
add_line(2, plasma_pred_smooth_x, plasma_pred_smooth_y, "red", 1.3, "spline")

# Panel C: plasma CWRES vs time
add_points(3, expand_columns(plasma_time_columns) + plasma_time_cwres)
add_line(3, plasma_time_smooth_x, plasma_time_smooth_y, "red", 1.3, "spline")

# Panel D: CSF observed vs individual predictions
add_line(4, identity_line, identity_line, "black", 1)
add_points(4, csf_ipred_dv)
add_line(4, csf_ipred_smooth_x, csf_ipred_smooth_y, "red", 2.5, "spline")

# Panel E: CSF CWRES vs population predictions
add_points(5, csf_pred_cwres)
add_line(5, csf_pred_smooth_x, csf_pred_smooth_y, "red", 1.3, "spline")

# Panel F: CSF CWRES vs time
add_points(6, csf_time_cwres)
add_line(6, csf_time_smooth_x, csf_time_smooth_y, "red", 1.3, "spline")

layout = dict(
    width=W, height=H, margin=dict(l=0, r=0, t=0, b=0),
    paper_bgcolor="white", plot_bgcolor="white", showlegend=False,
    xaxis=log_axis(1, "x"), yaxis=log_axis(1, "y"),
    xaxis2=log_axis(2, "x"),
    yaxis2=resid_axis(2, [-6, 6], [-6, -4, -2, 0, 2, 4, 6], [-4, -2, 0, 2, 4]),
    xaxis3=time_axis(3),
    yaxis3=resid_axis(3, [-5.75, 4.5], [-4, -2, 0, 2, 4], [-4, -2, 0, 2, 4]),
    xaxis4=log_axis(4, "x"), yaxis4=log_axis(4, "y"),
    xaxis5=log_axis(5, "x"),
    yaxis5=resid_axis(5, [-7, 6], [-6, -4, -2, 0, 2, 4, 6], [-6, -4, -2, 0, 2, 4]),
    xaxis6=time_axis(6),
    yaxis6=resid_axis(6, [-3.27, 2.88], [-3, -2, -1, 0, 1, 2], [-3, -2, -1, 0, 1, 2]),
)
fig.update_layout(**layout)

annotations = []


def text_at(x, y, text, font, angle=0):
    annotations.append(dict(x=x / W, y=1 - y / H, xref="paper", yref="paper", text=text,
                            showarrow=False, font=font, textangle=angle,
                            xanchor="center", yanchor="middle"))


x_titles = ["Individual predictions (µg/mL)", "Population predictions (µg/mL)",
            "Time after dose (hours)"]
y_titles = ["Observed concentration (µg/mL)", "Conditional weighted residuals",
            "Conditional weighted residuals"]
letters = ["A", "B", "C", "D", "E", "F"]

for i in range(1, 7):
    left, top, right, bottom = boxes[i]
    col = (i - 1) % 3
    text_at((left + right) / 2, bottom + 64, x_titles[col], TITLE_FONT)
    text_at(left - 86, (top + bottom) / 2, y_titles[col], TITLE_FONT, -90)
    text_at(left - 32, top - 9, letters[i - 1], LETTER_FONT)

text_at(882, 25, "<b>Plasma goodness-of-fit</b>", HEAD_FONT)
text_at(890, 589, "<b>CSF goodness-of-fit</b>", HEAD_FONT)

fig.update_layout(annotations=annotations)
fig.write_html("out.html")
